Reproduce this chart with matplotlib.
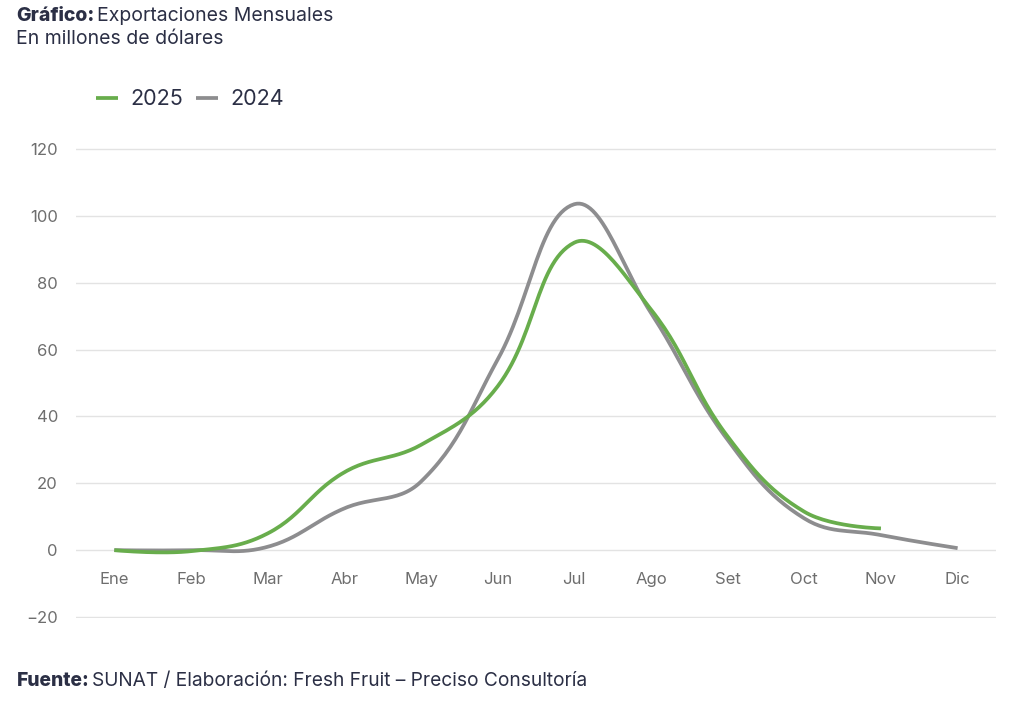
import matplotlib
matplotlib.use("Agg")
import matplotlib.pyplot as plt
import numpy as np

# data
meses = ["Ene", "Feb", "Mar", "Abr", "May", "Jun", "Jul", "Ago", "Set", "Oct", "Nov", "Dic"]
v2025 = [0, -0.3, 5, 23.3, 31.5, 49, 92, 72, 34, 11.5, 6.5]
v2024 = [0, 0, 1, 12.5, 20.5, 57, 103.5, 71, 33, 9.5, 4.5, 0.6]

plt.rcParams['font.family'] = ['Inter', 'DejaVu Sans']

col_green = "#68ad4c"
col_gray = "#8d8d8f"
col_text = "#2b2f45"

# px per unit, used only for the smoothing (like the js chart libs do it in pixel space)
px_x = 76.7
px_y = 3.342


def smooth(vals, tension=0.4, n=30):
    x = np.arange(len(vals)) * px_x
    y = -np.array(vals, dtype=float) * px_y
    pts = np.column_stack([x, y])
    cp_prev = pts.copy()
    cp_next = pts.copy()
    for i in range(1, len(pts) - 1):
        p0, p1, p2 = pts[i - 1], pts[i], pts[i + 1]
        d01 = np.hypot(*(p1 - p0))
        d12 = np.hypot(*(p2 - p1))
        s01 = d01 / (d01 + d12)
        s12 = d12 / (d01 + d12)
        cp_prev[i] = p1 - tension * s01 * (p2 - p0)
        cp_next[i] = p1 + tension * s12 * (p2 - p0)
    out = []
    t = np.linspace(0, 1, n)[:, None]
    for i in range(len(pts) - 1):
        a, b, c, d = pts[i], cp_next[i], cp_prev[i + 1], pts[i + 1]
        seg = (1 - t) ** 3 * a + 3 * (1 - t) ** 2 * t * b + 3 * (1 - t) * t ** 2 * c + t ** 3 * d
        out.append(seg)
    out = np.vstack(out)
    return out[:, 0] / px_x, -out[:, 1] / px_y


fig = plt.figure(figsize=(10.24, 7.03), dpi=100)
# ylim padded a little so the -20 and 120 grid lines are not clipped
ax = fig.add_axes([0.0742, 0.1209, 0.8984, 0.6685])

xs, ys = smooth(v2024)
ax.plot(xs, ys, color=col_gray, lw=2.7, solid_capstyle='butt', label="2024", zorder=3)
xs, ys = smooth(v2025)
ax.plot(xs, ys, color=col_green, lw=2.7, solid_capstyle='butt', label="2025", zorder=4)

ax.set_xlim(-0.5, 11.5)
ax.set_ylim(-20.3, 120.3)
ax.set_yticks(np.arange(-20, 121, 20))
ax.set_xticks(range(len(meses)))
ax.set_xticklabels(meses)
ax.grid(axis='y', color="#e3e3e3", lw=1)
ax.set_axisbelow(True)
for s in ['top', 'right', 'left']:
    ax.spines[s].set_visible(False)
ax.spines['bottom'].set_position(('data', 0))
ax.spines['bottom'].set_visible(False)
ax.tick_params(axis='both', length=0, labelsize=12, colors="#6e6e6e")
ax.tick_params(axis='x', pad=15.5)
ax.tick_params(axis='y', pad=13)

# legend, order as in the reference
h, l = ax.get_legend_handles_labels()
fig.legend([h[1], h[0]], [l[1], l[0]], loc='center left', bbox_to_anchor=(0.075, 0.859),
           ncol=2, frameon=False, fontsize=15.5, handlelength=1.0, handletextpad=0.6,
           columnspacing=0.6, labelcolor=col_text)

fig.text(0.016, 0.977, "Gráfico:", fontsize=14, fontweight='heavy', color=col_text, va='center')
fig.text(0.0945, 0.977, "Exportaciones Mensuales", fontsize=14, color=col_text, va='center')
fig.text(0.016, 0.944, "En millones de dólares", fontsize=14, color=col_text, va='center')

fig.text(0.016, 0.031, "Fuente:", fontsize=13.8, fontweight='heavy', color=col_text, va='center')
fig.text(0.0895, 0.031, "SUNAT / Elaboración: Fresh Fruit – Preciso Consultoría", fontsize=13.8,
         color=col_text, va='center')

fig.savefig("out.png", dpi=100, facecolor='white')
